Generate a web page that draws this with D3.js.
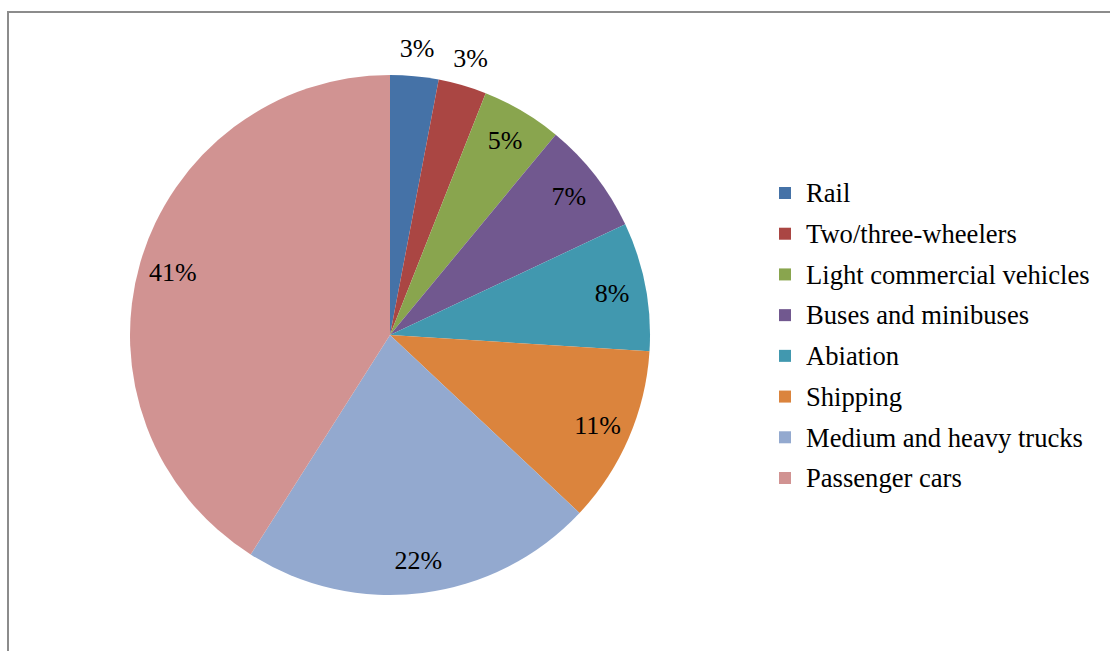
<!DOCTYPE html>
<html>
<head>
<meta charset="utf-8">
<script src="https://cdn.jsdelivr.net/npm/d3@7"></script>
<style>
  html, body { margin: 0; padding: 0; background: #fff; }
  svg { display: block; }
  text { font-family: "Liberation Serif", "Times New Roman", serif; fill: #000; }
</style>
</head>
<body>
<svg id="chart" width="1110" height="651"></svg>
<script>
// transport sector shares (%)
const categories = ["Rail", "Two/three-wheelers", "Light commercial vehicles", "Buses and minibuses",
  "Abiation", "Shipping", "Medium and heavy trucks", "Passenger cars"];
const shares = [3, 3, 5, 7, 8, 11, 22, 41];
const colors = ["#4572A7", "#AA4643", "#89A54E", "#71588F", "#4198AF", "#DB843D", "#93A9CF", "#D19392"];

const W = 1110, H = 651;
const cx = 390, cy = 335, R = 260;

const svg = d3.select("#chart");

// chart frame (only top and left edges are inside the picture)
svg.append("path")
  .attr("d", `M8,${H + 5} L8,12 L${W + 5},12`)
  .attr("fill", "none")
  .attr("stroke", "#8c8c8c")
  .attr("stroke-width", 2);

const pie = d3.pie().sort(null).value(d => d);
const arcs = pie(shares);
const arc = d3.arc().innerRadius(0).outerRadius(R);

const g = svg.append("g").attr("transform", `translate(${cx},${cy})`);

g.selectAll("path.slice")
  .data(arcs)
  .join("path")
  .attr("class", "slice")
  .attr("d", arc)
  .attr("fill", (d, i) => colors[i]);

// labels: small slices go outside, others inside near the edge
const inner = d3.arc().innerRadius(0.87 * R).outerRadius(0.87 * R);
const outer = d3.arc().innerRadius(1.11 * R).outerRadius(1.11 * R);

g.selectAll("text.lab")
  .data(arcs)
  .join("text")
  .attr("class", "lab")
  .attr("transform", d => {
    const p = (d.data <= 3 ? outer : inner).centroid(d);
    return `translate(${p[0]},${p[1]})`;
  })
  .attr("text-anchor", "middle")
  .attr("dy", "0.35em")
  .style("font-size", "26px")
  .text(d => d.data + "%");

// legend
const legY = d3.scalePoint().domain(categories).range([193, 478]);
const leg = svg.append("g");
const item = leg.selectAll("g")
  .data(categories)
  .join("g")
  .attr("transform", d => `translate(779,${legY(d)})`);
item.append("rect")
  .attr("x", 0).attr("y", -6)
  .attr("width", 12).attr("height", 12)
  .attr("fill", (d, i) => colors[i]);
item.append("text")
  .attr("x", 27)
  .attr("dy", "0.35em")
  .style("font-size", "26.6px")
  .text(d => d);
</script>
</body>
</html>
